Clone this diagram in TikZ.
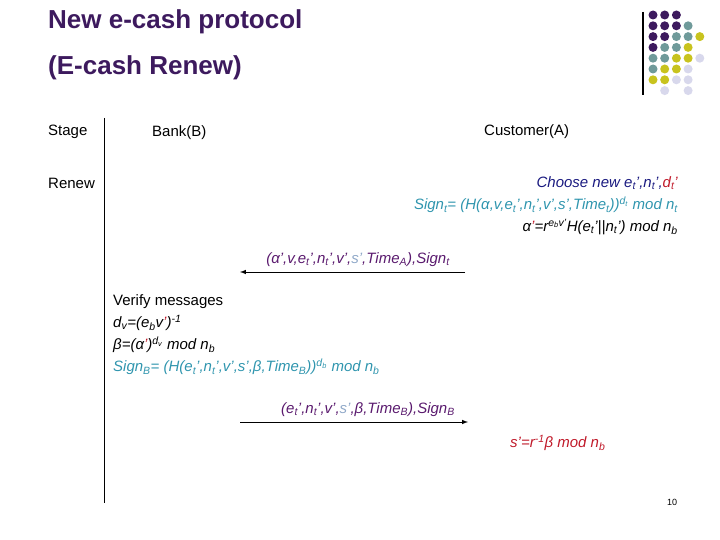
\documentclass[tikz,border=0pt]{standalone}
\usepackage{fontspec}
\setmainfont{Liberation Sans}
\definecolor{dp}{HTML}{3D1A5E}
\definecolor{P}{HTML}{3D1A5E}
\definecolor{T}{HTML}{6F9A9A}
\definecolor{Y}{HTML}{C8C31E}
\definecolor{L}{HTML}{D8D8EC}
\definecolor{nv}{HTML}{1A1A80}
\definecolor{rd}{HTML}{C01A2A}
\definecolor{cy}{HTML}{2F95AE}
\definecolor{pm}{HTML}{5A1A6E}
\definecolor{gb}{HTML}{8FA8C8}
\newcommand{\lo}[1]{\textsubscript{#1}}
\newcommand{\hi}[1]{\textsuperscript{#1}}
\begin{document}
\begin{tikzpicture}[x=1pt,y=-1pt,
  txt/.style={inner sep=0pt,font=\fontsize{15}{18}\selectfont},
  ttl/.style={inner sep=0pt,font=\fontsize{26}{30}\selectfont\bfseries,text=dp,anchor=west},
  msg/.style={-latex,line width=1pt},
  dot/.style={circle,inner sep=0pt,minimum size=9pt}]
\useasboundingbox (0,0) rectangle (720,540);
\node[ttl] (t1) at (48,22) {New e-cash protocol};
\node[ttl] (t2) at (48,68) {(E-cash Renew)};
\draw[line width=1.5pt] (643,12) -- (643,95);
\foreach \r/\row in {0/{P,P,P},1/{P,P,P,T},2/{P,P,T,T,Y},3/{P,T,T,Y},4/{T,T,Y,Y,L},5/{T,Y,Y,L},6/{Y,Y,L,L},7/{N,L,N,L}}{
  \foreach \c [count=\i from 0] in \row {
    \if N\c\else\node[dot,fill=\c] (d\r\i) at ({653+11.7*\i},{15+10.8*\r}) {};\fi
  }
}
\node[txt,anchor=west] (stage) at (48,132) {Stage};
\node[txt,anchor=west] (bank) at (152,133) {Bank(B)};
\node[txt,anchor=west] (cust) at (484,132) {Customer(A)};
\node[txt,anchor=west] (renew) at (48,183) {Renew};
\draw[line width=1pt] (104,118) coordinate (vl1) -- (104,503) coordinate (vl2);
\node[txt,anchor=east,text=nv] (c1) at (678,183) {\itshape Choose new e\lo{t}’,n\lo{t}’,\textcolor{rd}{d\lo{t}’}};
\node[txt,anchor=east,text=cy] (c2) at (678,205) {\itshape Sign\lo{t}= (H(α,v,e\lo{t}’,n\lo{t}’,v’,s’,Time\lo{t}))\hi{d\lo{t}} mod n\lo{t}};
\node[txt,anchor=east] (c3) at (678,227) {\itshape α\textcolor{rd}{’}=r\hi{e\lo{b}v’}H(e\lo{t}’||n\lo{t}’) mod n\lo{b}};
\coordinate (a1s) at (465,272); \coordinate (a1e) at (240,272);
\draw[msg] (a1s) -- (a1e);
\node[txt,text=pm,anchor=south] (l1) at (358,267) {\itshape (α’,v,e\lo{t}’,n\lo{t}’,v’,\textcolor{gb}{s’},Time\lo{A}),Sign\lo{t}};
\node[txt,anchor=west] (b1) at (113,302) {Verify messages};
\node[txt,anchor=west] (b2) at (113,323) {\itshape d\lo{v}=(e\lo{b}v\textcolor{rd}{’})\hi{-1}};
\node[txt,anchor=west] (b3) at (113,345) {\itshape β=(α\textcolor{rd}{’})\hi{d\lo{v}} mod n\lo{b}};
\node[txt,anchor=west,text=cy] (b4) at (113,367) {\itshape Sign\lo{B}= (H(e\lo{t}’,n\lo{t}’,v’,s’,β,Time\lo{B}))\hi{d\lo{b}} mod n\lo{b}};
\coordinate (a2s) at (240,422); \coordinate (a2e) at (468,422);
\draw[msg] (a2s) -- (a2e);
\node[txt,text=pm,anchor=south] (l2) at (368,417) {\itshape (e\lo{t}’,n\lo{t}’,v’,\textcolor{gb}{s’},β,Time\lo{B}),Sign\lo{B}};
\node[txt,text=rd,anchor=west] (s1) at (510,443) {\itshape s’=r\hi{-1}β mod n\lo{b}};
\node[inner sep=0pt,font=\fontsize{9}{10}\selectfont] (pg) at (672,502) {10};
\end{tikzpicture}
\end{document}
